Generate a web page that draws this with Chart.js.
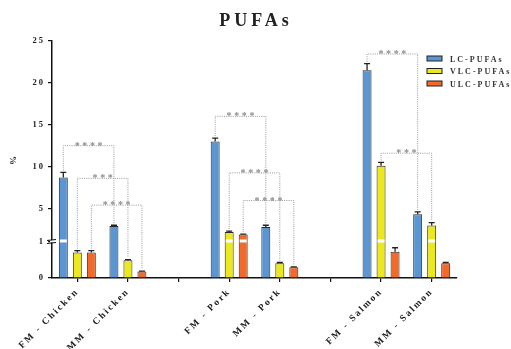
<!DOCTYPE html>
<html>
<head>
<meta charset="utf-8">
<script src="https://cdn.jsdelivr.net/npm/chart.js@4.4.1/dist/chart.umd.min.js"></script>
<style>
  html, body { margin: 0; padding: 0; background: #fff; }
  #wrap { width: 511px; height: 349px; }
</style>
</head>
<body>
<div id="wrap"><canvas id="pufaChart" width="511" height="349"></canvas></div>
<script>
// categories (empty strings are the spacer slots between meat types)
var categories = ["FM - Chicken", "MM - Chicken", "", "FM - Pork", "MM - Pork", "", "FM - Salmon", "MM - Salmon"];
var seriesNames = ["LC-PUFAs", "VLC-PUFAs", "ULC-PUFAs"];
var seriesColors = ["#5B96D3", "#ECE81E", "#F26A2A"];

var lcValues  = [8.7, 2.9, null, 13.0, 2.8, null, 21.5, 4.3];
var lcErrors  = [0.6, 0.1, null, 0.4, 0.2, null, 0.8, 0.3];
var vlcValues = [0.71, 0.49, null, 2.2, 0.41, null, 10.1, 2.96];
var vlcErrors = [0.05, 0.02, null, 0.1, 0.02, null, 0.4, 0.35];
var ulcValues = [0.71, 0.18, null, 1.88, 0.30, null, 0.73, 0.41];
var ulcErrors = [0.05, 0.01, null, 0.05, 0.01, null, 0.11, 0.02];

var yTicks = [0, 1, 5, 10, 15, 20, 25];

// significance brackets: series index, from category, to category, bracket height, stars
var sigSeries = [0, 1, 2, 0, 1, 2, 0, 1];
var sigFrom   = [0, 0, 0, 3, 3, 3, 6, 6];
var sigTo     = [1, 1, 1, 4, 4, 4, 7, 7];
var sigHeight = [12.5, 8.6, 5.4, 16.0, 9.25, 5.95, 23.45, 11.6];
var sigStars  = ["****", "***", "****", "****", "****", "****", "****", "***"];

// bars that show the white cut where the axis is broken
var cutSeries = [0, 1, 2, 1, 1];
var cutCats   = [0, 3, 3, 6, 7];

var errors = [lcErrors, vlcErrors, ulcErrors];
var SERIF = "'Liberation Serif', 'DejaVu Serif', serif";

// y axis with a break at 1: 0..1 gets the bottom slice, 1..25 the rest
var BREAK = 1, LOW_SHARE = 0.152;
class BrokenScale extends Chart.LinearScale {
  getPixelForValue(value) {
    if (value === null || value === undefined) return NaN;
    var frac;
    if (value <= BREAK) frac = (value - this.min) / (BREAK - this.min) * LOW_SHARE;
    else frac = LOW_SHARE + (value - BREAK) / (this.max - BREAK) * (1 - LOW_SHARE);
    return this.getPixelForDecimal(frac);
  }
  getValueForPixel(pixel) {
    var frac = this.getDecimalForPixel(pixel);
    if (frac <= LOW_SHARE) return this.min + frac / LOW_SHARE * (BREAK - this.min);
    return BREAK + (frac - LOW_SHARE) / (1 - LOW_SHARE) * (this.max - BREAK);
  }
}
BrokenScale.id = "broken";
BrokenScale.defaults = Chart.LinearScale.defaults;
Chart.register(BrokenScale);

var spacingPlugin = {
  id: "spacing",
  beforeLayout: function(chart) { chart.ctx.letterSpacing = "2px"; },
  beforeDraw: function(chart) { chart.ctx.letterSpacing = "2px"; }
};

var extrasPlugin = {
  id: "extras",
  afterDatasetsDraw: function(chart) {
    var ctx = chart.ctx;
    var y = chart.scales.y;
    var breakY = y.getPixelForValue(BREAK);
    ctx.save();

    // white cut in bars at the break
    ctx.fillStyle = "#fff";
    for (var c = 0; c < cutSeries.length; c++) {
      var b = chart.getDatasetMeta(cutSeries[c]).data[cutCats[c]];
      ctx.fillRect(b.x - b.width / 2 + 1, breakY - 2.5, b.width - 2, 3);
    }

    // error bars (upper only)
    ctx.strokeStyle = "#222";
    ctx.lineWidth = 1.3;
    for (var d = 0; d < 3; d++) {
      var meta = chart.getDatasetMeta(d);
      var vals = chart.data.datasets[d].data;
      for (var i = 0; i < vals.length; i++) {
        if (vals[i] === null) continue;
        var bar = meta.data[i];
        var top = y.getPixelForValue(vals[i] + errors[d][i]);
        ctx.beginPath();
        ctx.moveTo(bar.x, bar.y);
        ctx.lineTo(bar.x, top);
        ctx.moveTo(bar.x - 3, top);
        ctx.lineTo(bar.x + 3, top);
        ctx.stroke();
      }
    }

    // significance brackets
    ctx.strokeStyle = "#999";
    ctx.lineWidth = 1;
    ctx.setLineDash([1, 1.2]);
    for (var s = 0; s < sigSeries.length; s++) {
      var sm = chart.getDatasetMeta(sigSeries[s]);
      var sv = chart.data.datasets[sigSeries[s]].data;
      var se = errors[sigSeries[s]];
      var b1 = sm.data[sigFrom[s]], b2 = sm.data[sigTo[s]];
      var hy = y.getPixelForValue(sigHeight[s]);
      var y1 = y.getPixelForValue(sv[sigFrom[s]] + se[sigFrom[s]]) - 2;
      var y2 = y.getPixelForValue(sv[sigTo[s]] + se[sigTo[s]]) - 2;
      ctx.beginPath();
      ctx.moveTo(b1.x, y1);
      ctx.lineTo(b1.x, hy);
      ctx.lineTo(b2.x, hy);
      ctx.lineTo(b2.x, y2);
      ctx.stroke();
    }
    ctx.setLineDash([]);
    ctx.fillStyle = "#8a8a8a";
    ctx.font = "bold 10px " + SERIF;
    ctx.letterSpacing = "2.6px";
    ctx.textAlign = "left";
    ctx.textBaseline = "alphabetic";
    for (var t = 0; t < sigSeries.length; t++) {
      var tm = chart.getDatasetMeta(sigSeries[t]);
      var cx = (tm.data[sigFrom[t]].x + tm.data[sigTo[t]].x) / 2;
      var w = ctx.measureText(sigStars[t]).width - 2.6;
      ctx.fillText(sigStars[t], cx - w / 2, y.getPixelForValue(sigHeight[t]) + 3);
    }
    ctx.restore();
  },
  afterDraw: function(chart) {
    var ctx = chart.ctx;
    var y = chart.scales.y;
    var area = chart.chartArea;
    var breakY = y.getPixelForValue(BREAK);
    ctx.save();

    // axis break marks
    ctx.fillStyle = "#fff";
    ctx.fillRect(area.left - 2, breakY - 1.8, 4, 2.2);
    ctx.strokeStyle = "#111";
    ctx.lineWidth = 1.1;
    ctx.beginPath();
    ctx.moveTo(area.left - 5, breakY - 1.5);
    ctx.lineTo(area.left + 4, breakY - 2.5);
    ctx.moveTo(area.left - 5, breakY + 1.5);
    ctx.lineTo(area.left + 4, breakY + 0.5);
    ctx.stroke();

    // title
    ctx.fillStyle = "#222";
    ctx.font = "bold 18px " + SERIF;
    ctx.letterSpacing = "4px";
    ctx.textAlign = "left";
    ctx.textBaseline = "alphabetic";
    var tw = ctx.measureText("PUFAs").width - 4;
    ctx.fillText("PUFAs", 254 - tw / 2, 26);

    // legend
    ctx.font = "bold 8px " + SERIF;
    ctx.letterSpacing = "2px";
    for (var k = 0; k < seriesNames.length; k++) {
      var ly = 56 + k * 12.5;
      ctx.fillStyle = seriesColors[k];
      ctx.fillRect(427, ly, 15, 5);
      ctx.strokeStyle = "#222";
      ctx.lineWidth = 1;
      ctx.strokeRect(427, ly, 15, 5);
      ctx.fillStyle = "#333";
      ctx.fillText(seriesNames[k], 450, ly + 5.5);
    }
    ctx.restore();
  }
};

var datasets = [lcValues, vlcValues, ulcValues].map(function(vals, i) {
  return {
    label: seriesNames[i],
    data: vals,
    backgroundColor: seriesColors[i],
    borderColor: "#2a2a2a",
    borderWidth: 1,
    categoryPercentage: 0.83,
    barPercentage: 0.64
  };
});

new Chart(document.getElementById("pufaChart"), {
  type: "bar",
  data: { labels: categories, datasets: datasets },
  plugins: [spacingPlugin, extrasPlugin],
  options: {
    responsive: false,
    animation: false,
    layout: { padding: { top: 41, right: 54, bottom: 0, left: 0 } },
    plugins: {
      legend: { display: false },
      title: { display: false },
      tooltip: { enabled: false }
    },
    scales: {
      x: {
        offset: true,
        afterFit: function(s) { s.height = 71; },
        grid: { drawOnChartArea: false, drawTicks: true, tickLength: 4, offset: false, color: "#111", lineWidth: 1.2 },
        border: { display: true, color: "#111", width: 1.5 },
        ticks: {
          autoSkip: false, minRotation: 45, maxRotation: 45, padding: 4,
          color: "#222", font: { family: SERIF, size: 9.5, weight: "bold" }
        }
      },
      y: {
        type: "broken",
        min: 0,
        max: 25,
        afterBuildTicks: function(s) { s.ticks = yTicks.map(function(v) { return { value: v }; }); },
        afterFit: function(s) { s.width = 52; },
        grid: { drawOnChartArea: false, drawTicks: true, tickLength: 4, color: "#111", lineWidth: 1.2 },
        border: { display: true, color: "#111", width: 1.5 },
        ticks: { padding: 3, color: "#222", font: { family: SERIF, size: 8.5, weight: "bold" } },
        title: { display: true, text: "%", color: "#222", padding: { top: 8, bottom: 0 }, font: { family: SERIF, size: 9, weight: "bold" } }
      }
    }
  }
});
</script>
</body>
</html>
